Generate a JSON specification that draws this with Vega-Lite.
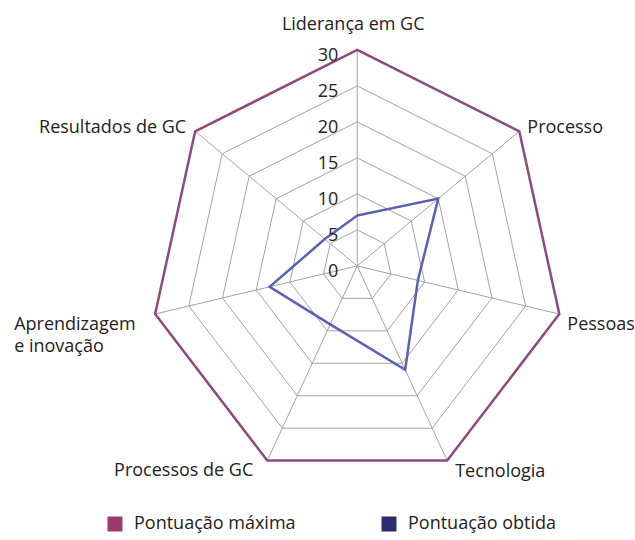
{
  "$schema": "https://vega.github.io/schema/vega-lite/v6.json",
  "width": 635,
  "height": 540,
  "autosize": {"type": "none"},
  "padding": 0,
  "config": {"view": {"stroke": null}, "font": "Open Sans"},
  "datasets": {
    "cats": [
      {"category": "Liderança em GC", "idx": 0, "levels": [5, 10, 15, 20, 25]},
      {"category": "Processo", "idx": 1, "levels": [5, 10, 15, 20, 25]},
      {"category": "Pessoas", "idx": 2, "levels": [5, 10, 15, 20, 25]},
      {"category": "Tecnologia", "idx": 3, "levels": [5, 10, 15, 20, 25]},
      {"category": "Processos de GC", "idx": 4, "levels": [5, 10, 15, 20, 25]},
      {"category": "Aprendizagem\ne inovação", "idx": 5, "levels": [5, 10, 15, 20, 25]},
      {"category": "Resultados de GC", "idx": 6, "levels": [5, 10, 15, 20, 25]}
    ],
    "scores": [
      {"category": "Liderança em GC", "idx": 0, "series": "Pontuação máxima", "value": 30},
      {"category": "Processo", "idx": 1, "series": "Pontuação máxima", "value": 30},
      {"category": "Pessoas", "idx": 2, "series": "Pontuação máxima", "value": 30},
      {"category": "Tecnologia", "idx": 3, "series": "Pontuação máxima", "value": 30},
      {"category": "Processos de GC", "idx": 4, "series": "Pontuação máxima", "value": 30},
      {"category": "Aprendizagem e inovação", "idx": 5, "series": "Pontuação máxima", "value": 30},
      {"category": "Resultados de GC", "idx": 6, "series": "Pontuação máxima", "value": 30},
      {"category": "Liderança em GC", "idx": 0, "series": "Pontuação obtida", "value": 7},
      {"category": "Processo", "idx": 1, "series": "Pontuação obtida", "value": 15},
      {"category": "Pessoas", "idx": 2, "series": "Pontuação obtida", "value": 9},
      {"category": "Tecnologia", "idx": 3, "series": "Pontuação obtida", "value": 16},
      {"category": "Processos de GC", "idx": 4, "series": "Pontuação obtida", "value": 9},
      {"category": "Aprendizagem e inovação", "idx": 5, "series": "Pontuação obtida", "value": 13},
      {"category": "Resultados de GC", "idx": 6, "series": "Pontuação obtida", "value": 6}
    ],
    "ticks": [{"tick": 0}, {"tick": 5}, {"tick": 10}, {"tick": 15}, {"tick": 20}, {"tick": 25}, {"tick": 30}]
  },
  "encoding": {
    "x": {"field": "x", "type": "quantitative", "scale": {"domain": [-51.7, 40.2], "nice": false, "zero": false}, "axis": null},
    "y": {"field": "y", "type": "quantitative", "scale": {"domain": [-38.06, 36.94], "nice": false, "zero": false}, "axis": null}
  },
  "layer": [
    {
      "data": {"name": "scores"},
      "transform": [
        {"filter": "datum.idx == 0"},
        {"calculate": "datum.series", "as": "Serie"},
        {"calculate": "0", "as": "x"},
        {"calculate": "0", "as": "y"}
      ],
      "mark": {"type": "square", "size": 0, "filled": true, "opacity": 1},
      "encoding": {
        "fill": {
          "field": "Serie", "type": "nominal",
          "scale": {"domain": ["Pontuação máxima", "Pontuação obtida"], "range": ["#9b3a6f", "#2f2b70"]},
          "legend": {
            "title": null, "orient": "none", "legendX": 106, "legendY": 515, "direction": "horizontal",
            "symbolType": "square", "symbolSize": 225, "symbolStrokeWidth": 0, "symbolOpacity": 1,
            "labelFontSize": 18, "labelFont": "Open Sans", "labelColor": "#222222", "labelOffset": 10,
            "columnPadding": 84, "labelLimit": 300
          }
        }
      }
    },
    {
      "data": {"name": "cats"},
      "transform": [
        {"flatten": ["levels"], "as": ["level"]},
        {"calculate": "datum.level * sin(2 * PI * datum.idx / 7)", "as": "x"},
        {"calculate": "datum.level * cos(2 * PI * datum.idx / 7)", "as": "y"}
      ],
      "mark": {"type": "line", "interpolate": "linear-closed", "stroke": "#a3a3a3", "strokeWidth": 1},
      "encoding": {
        "detail": {"field": "level", "type": "nominal"},
        "order": {"field": "idx", "type": "quantitative"}
      }
    },
    {
      "data": {"name": "cats"},
      "transform": [
        {"calculate": "0", "as": "x"},
        {"calculate": "0", "as": "y"},
        {"calculate": "30 * sin(2 * PI * datum.idx / 7)", "as": "xe"},
        {"calculate": "30 * cos(2 * PI * datum.idx / 7)", "as": "ye"}
      ],
      "mark": {"type": "rule", "stroke": "#a3a3a3", "strokeWidth": 1},
      "encoding": {
        "x2": {"field": "xe"},
        "y2": {"field": "ye"}
      }
    },
    {
      "data": {"name": "scores"},
      "transform": [
        {"calculate": "datum.value * sin(2 * PI * datum.idx / 7)", "as": "x"},
        {"calculate": "datum.value * cos(2 * PI * datum.idx / 7)", "as": "y"}
      ],
      "mark": {"type": "line", "interpolate": "linear-closed", "strokeWidth": 2.5},
      "encoding": {
        "stroke": {"field": "series", "type": "nominal", "scale": {"domain": ["Pontuação máxima", "Pontuação obtida"], "range": ["#8d4a7f", "#5b5fb8"]}, "legend": null},
        "detail": {"field": "series", "type": "nominal"},
        "order": {"field": "idx", "type": "quantitative"}
      }
    },
    {
      "data": {"name": "ticks"},
      "transform": [
        {"calculate": "0", "as": "x"},
        {"calculate": "datum.tick", "as": "y"}
      ],
      "mark": {"type": "text", "align": "right", "baseline": "middle", "dx": -19, "dy": 6, "fontSize": 18, "color": "#222222"},
      "encoding": {
        "text": {"field": "tick", "type": "quantitative"}
      }
    },
    {
      "data": {"name": "cats"},
      "transform": [
        {"filter": "datum.idx == 0"},
        {"calculate": "30 * sin(2 * PI * datum.idx / 7)", "as": "x"},
        {"calculate": "30 * cos(2 * PI * datum.idx / 7)", "as": "y"}
      ],
      "mark": {"type": "text", "align": "center", "baseline": "alphabetic", "dx": -4, "dy": -20, "fontSize": 18, "color": "#222222"},
      "encoding": {"text": {"field": "category", "type": "nominal"}}
    },
    {
      "data": {"name": "cats"},
      "transform": [
        {"filter": "datum.idx == 1"},
        {"calculate": "30 * sin(2 * PI * datum.idx / 7)", "as": "x"},
        {"calculate": "30 * cos(2 * PI * datum.idx / 7)", "as": "y"}
      ],
      "mark": {"type": "text", "align": "left", "baseline": "middle", "dx": 8, "dy": -3, "fontSize": 18, "color": "#222222"},
      "encoding": {"text": {"field": "category", "type": "nominal"}}
    },
    {
      "data": {"name": "cats"},
      "transform": [
        {"filter": "datum.idx == 2 || datum.idx == 3"},
        {"calculate": "30 * sin(2 * PI * datum.idx / 7)", "as": "x"},
        {"calculate": "30 * cos(2 * PI * datum.idx / 7)", "as": "y"}
      ],
      "mark": {"type": "text", "align": "left", "baseline": "middle", "dx": 8, "dy": 11, "fontSize": 18, "color": "#222222"},
      "encoding": {"text": {"field": "category", "type": "nominal"}}
    },
    {
      "data": {"name": "cats"},
      "transform": [
        {"filter": "datum.idx == 4"},
        {"calculate": "30 * sin(2 * PI * datum.idx / 7)", "as": "x"},
        {"calculate": "30 * cos(2 * PI * datum.idx / 7)", "as": "y"}
      ],
      "mark": {"type": "text", "align": "right", "baseline": "middle", "dx": -14, "dy": 10, "fontSize": 18, "color": "#222222"},
      "encoding": {"text": {"field": "category", "type": "nominal"}}
    },
    {
      "data": {"name": "cats"},
      "transform": [
        {"filter": "datum.idx == 5"},
        {"calculate": "30 * sin(2 * PI * datum.idx / 7)", "as": "x"},
        {"calculate": "30 * cos(2 * PI * datum.idx / 7)", "as": "y"}
      ],
      "mark": {"type": "text", "align": "left", "baseline": "middle", "dx": -141, "dy": 11, "lineBreak": "\n", "lineHeight": 22, "fontSize": 18, "color": "#222222"},
      "encoding": {"text": {"field": "category", "type": "nominal"}}
    },
    {
      "data": {"name": "cats"},
      "transform": [
        {"filter": "datum.idx == 6"},
        {"calculate": "30 * sin(2 * PI * datum.idx / 7)", "as": "x"},
        {"calculate": "30 * cos(2 * PI * datum.idx / 7)", "as": "y"}
      ],
      "mark": {"type": "text", "align": "right", "baseline": "middle", "dx": -9, "dy": -3, "fontSize": 18, "color": "#222222"},
      "encoding": {"text": {"field": "category", "type": "nominal"}}
    }
  ]
}
